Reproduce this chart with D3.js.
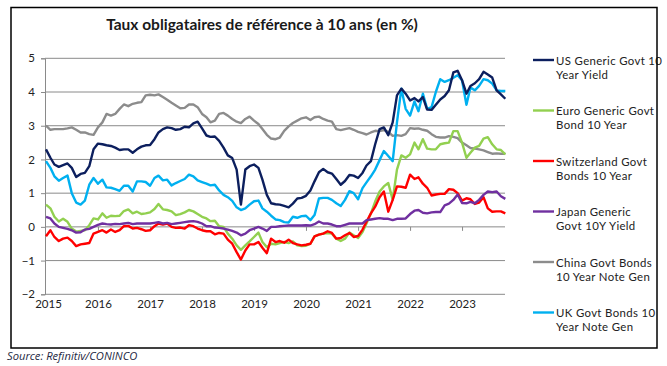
<!DOCTYPE html>
<html><head><meta charset="utf-8">
<script src="https://cdn.jsdelivr.net/npm/d3@7/dist/d3.min.js"></script>
<style>
html,body{margin:0;padding:0;background:#fff;}
svg{display:block;}
</style></head>
<body>
<svg id="chart" width="667" height="366"></svg>
<script>
// ---------- DATA (monthly, Jan 2015 – Nov 2023) ----------
const startMonth = "2015-01";
const endMonth = "2023-11";
const yearTicks = ["2015","2016","2017","2018","2019","2020","2021","2022","2023"];
const yTicks = [-2,-1,0,1,2,3,4,5];

const usYield = [
 2.3,2.05,1.85,1.78,1.83,1.88,1.75,1.48,1.57,1.6,1.8,2.3,
 2.47,2.45,2.42,2.4,2.35,2.28,2.3,2.3,2.2,2.3,2.38,2.42,
 2.43,2.6,2.8,2.9,2.95,2.93,2.88,2.9,2.97,2.95,3.07,3.12,
 2.92,2.71,2.67,2.68,2.55,2.35,2.12,2.04,1.7,0.66,1.7,1.8,
 1.85,1.75,1.4,0.95,0.7,0.67,0.66,0.62,0.58,0.69,0.84,0.86,
 0.92,1.08,1.35,1.62,1.72,1.62,1.58,1.42,1.25,1.36,1.54,1.52,
 1.45,1.6,1.82,1.95,2.45,2.9,2.95,2.72,3.1,3.9,4.1,3.95,
 3.75,3.82,3.72,3.85,3.48,3.47,3.62,3.78,3.88,4.05,4.58,4.63,
 4.35,3.95,4.18,4.26,4.38,4.6,4.52,4.43,4.05,3.93,3.8
];
const euroYield = [
 0.66,0.55,0.3,0.16,0.24,0.15,-0.05,-0.14,-0.12,-0.1,0.05,0.25,
 0.22,0.4,0.27,0.33,0.32,0.33,0.47,0.52,0.4,0.45,0.38,0.4,
 0.43,0.53,0.68,0.52,0.5,0.46,0.35,0.38,0.43,0.5,0.46,0.38,
 0.3,0.25,0.17,0.18,0.02,0.0,-0.2,-0.35,-0.55,-0.68,-0.55,-0.43,
 -0.3,-0.17,-0.45,-0.6,-0.5,-0.52,-0.48,-0.45,-0.48,-0.43,-0.55,-0.57,
 -0.56,-0.5,-0.28,-0.23,-0.2,-0.18,-0.2,-0.35,-0.42,-0.35,-0.17,-0.25,
 -0.33,-0.15,0.1,0.4,0.75,1.05,1.2,1.3,0.8,1.7,2.12,2.05,
 2.15,2.5,2.3,2.6,2.32,2.3,2.3,2.45,2.48,2.5,2.84,2.84,
 2.5,2.05,2.2,2.35,2.4,2.62,2.66,2.45,2.3,2.28,2.15
];
const swissYield = [
 -0.28,-0.1,-0.3,-0.42,-0.35,-0.32,-0.42,-0.57,-0.52,-0.5,-0.48,-0.2,
 -0.15,-0.1,-0.17,-0.08,-0.15,-0.1,0.02,0.03,-0.05,-0.03,-0.07,-0.12,
 -0.1,0.02,0.1,0.07,0.1,0.0,-0.03,-0.02,-0.05,0.05,0.02,-0.05,
 -0.1,-0.13,-0.13,-0.22,-0.18,-0.2,-0.38,-0.5,-0.75,-0.97,-0.7,-0.52,
 -0.52,-0.45,-0.62,-0.78,-0.35,-0.45,-0.42,-0.47,-0.38,-0.48,-0.52,-0.55,
 -0.53,-0.5,-0.28,-0.23,-0.2,-0.13,-0.18,-0.35,-0.33,-0.25,-0.18,-0.3,
 -0.27,-0.08,0.15,0.4,0.6,0.88,1.05,0.45,0.8,1.2,1.19,1.16,
 1.55,1.42,1.47,1.28,1.16,0.93,0.96,0.98,0.98,1.12,1.1,1.0,
 0.78,0.85,0.82,0.68,0.72,0.88,0.55,0.45,0.46,0.46,0.4
];
const japanYield = [
 0.3,0.25,0.1,0.0,-0.03,-0.06,-0.1,-0.17,-0.16,-0.08,-0.06,0.0,
 0.06,0.1,0.08,0.07,0.09,0.08,0.1,0.12,0.08,0.1,0.1,0.1,
 0.1,0.12,0.14,0.1,0.12,0.08,0.1,0.12,0.14,0.16,0.17,0.15,
 0.1,0.02,0.02,-0.02,-0.03,-0.05,-0.08,-0.12,-0.17,-0.25,-0.2,-0.1,
 -0.05,0.0,-0.05,-0.12,0.0,0.0,0.02,0.03,0.04,0.04,0.04,0.04,
 0.05,0.04,0.08,0.16,0.1,0.1,0.07,0.02,0.02,0.06,0.1,0.1,
 0.1,0.1,0.2,0.22,0.24,0.26,0.24,0.24,0.2,0.24,0.24,0.25,
 0.38,0.48,0.5,0.42,0.4,0.43,0.44,0.44,0.64,0.69,0.8,0.96,
 0.71,0.7,0.74,0.7,0.8,0.95,1.05,1.03,1.05,0.91,0.83
];
const chinaYield = [
 3.0,2.88,2.9,2.9,2.9,2.92,2.95,2.88,2.8,2.8,2.75,2.73,
 2.95,3.1,3.35,3.3,3.35,3.5,3.63,3.58,3.65,3.68,3.7,3.9,
 3.92,3.9,3.93,3.85,3.77,3.68,3.6,3.52,3.53,3.63,3.63,3.55,
 3.35,3.25,3.1,3.15,3.35,3.38,3.3,3.2,3.12,3.08,3.2,3.27,
 3.15,3.05,2.9,2.73,2.62,2.6,2.65,2.85,2.98,3.08,3.15,3.22,
 3.25,3.17,3.25,3.27,3.2,3.15,3.12,2.9,2.87,2.9,2.93,2.88,
 2.82,2.78,2.74,2.8,2.85,2.84,2.87,2.82,2.7,2.72,2.7,2.75,
 2.93,2.91,2.92,2.88,2.85,2.75,2.67,2.65,2.65,2.69,2.67,2.63,
 2.5,2.42,2.34,2.32,2.3,2.27,2.22,2.17,2.18,2.17,2.17
];
const ukYield = [
 1.95,1.75,1.5,1.37,1.45,1.52,1.0,0.72,0.66,0.78,1.25,1.45,
 1.28,1.4,1.17,1.16,1.12,1.07,1.22,1.22,1.05,1.35,1.35,1.33,
 1.22,1.45,1.52,1.38,1.4,1.23,1.3,1.36,1.42,1.55,1.5,1.38,
 1.33,1.28,1.23,1.25,1.08,0.95,0.88,0.77,0.58,0.5,0.55,0.66,
 0.76,0.78,0.55,0.45,0.33,0.22,0.2,0.14,0.13,0.3,0.27,0.32,
 0.33,0.2,0.35,0.84,0.86,0.86,0.8,0.7,0.62,0.8,1.06,1.0,
 0.82,1.15,1.32,1.5,1.7,1.98,2.25,2.1,1.95,3.1,4.1,3.5,
 3.3,3.72,3.43,3.95,3.5,3.55,4.0,4.38,4.3,4.35,4.42,4.5,
 4.35,3.62,4.13,4.05,4.18,4.38,4.35,4.25,4.05,4.03,4.03
];

const seriesNames = [
 ["US Generic Govt 10","Year Yield"],
 ["Euro Generic Govt","Bond 10 Year"],
 ["Switzerland Govt","Bonds 10 Year"],
 ["Japan Generic","Govt 10Y Yield"],
 ["China Govt Bonds","10 Year Note Gen"],
 ["UK Govt Bonds 10","Year Note Gen"]
];
const seriesValues = [usYield, euroYield, swissYield, japanYield, chinaYield, ukYield];
const seriesColors = ["#0c1f5e","#92d050","#ff0000","#7030a0","#8c8c8c","#00b0f0"];
// drawing order (back to front)
const drawOrder = [4,1,2,3,5,0];

const titleText = "Taux obligataires de référence à 10 ans (en %)";
const sourceText = "Source: Refinitiv/CONINCO";

// ---------- CHART ----------
const svg = d3.select("#chart");
const parse = d3.timeParse("%Y-%m");
const months = d3.timeMonth.range(parse(startMonth), d3.timeMonth.offset(parse(endMonth), 1));

const x = d3.scaleTime()
  .domain([new Date(2015,0,1), new Date(2024,0,1)])
  .range([46, 514]);
const y = d3.scaleLinear().domain([-2,5]).range([294.3, 58.3]);
const plotRight = 505;
const font = "Lato, 'DejaVu Sans', sans-serif";

// legend (drawn first so the frame sits on top)
const leg = svg.append("g");
seriesNames.forEach((nm,k)=>{
  const ly = 60 + k*50.5;
  leg.append("line").attr("x1",533).attr("x2",554).attr("y1",ly).attr("y2",ly)
    .attr("stroke",seriesColors[k]).attr("stroke-width",2.4);
  nm.forEach((txt,j)=>{
    leg.append("text").attr("x",556).attr("y",ly + j*14)
      .attr("dominant-baseline","central")
      .attr("font-family",font).attr("font-size",11.4)
      .attr("letter-spacing",0.35).attr("fill","#222").text(txt);
  });
});

// outer frame
svg.append("rect").attr("x",11).attr("y",7.5).attr("width",646).attr("height",340.5)
  .attr("fill","none").attr("stroke","#000").attr("stroke-width",1.5);

// title
svg.append("text").attr("x",262).attr("y",30).attr("text-anchor","middle")
  .attr("font-family",font).attr("font-size",15.5)
  .attr("font-weight",700).attr("fill","#1a1a1a").text(titleText);

// gridlines
svg.append("g").selectAll("line").data(yTicks).join("line")
  .attr("x1",45).attr("x2",plotRight)
  .attr("y1",d=>y(d)).attr("y2",d=>y(d))
  .attr("stroke","#8a8a8a").attr("stroke-width",1);

// y axis
const yAxis = svg.append("g").attr("transform","translate(45,0)")
  .call(d3.axisLeft(y).tickValues(yTicks).tickSize(4).tickPadding(6).tickFormat(d3.format("d")));
yAxis.select(".domain").attr("stroke","#8a8a8a");
yAxis.selectAll(".tick line").attr("stroke","#8a8a8a");
yAxis.selectAll("text").attr("font-family",font)
  .attr("font-size",11.5).attr("fill","#222");

// x tick marks on the zero line
const yearDates = yearTicks.map(t => new Date(+t,0,1));
const xTickAxis = svg.append("g").attr("transform",`translate(0,${y(0)})`)
  .call(d3.axisBottom(x).tickValues(yearDates.slice(1)).tickSize(4).tickFormat(""));
xTickAxis.select(".domain").remove();
xTickAxis.selectAll(".tick line").attr("stroke","#8a8a8a");

// x labels at bottom
const xLab = svg.append("g").attr("transform",`translate(0,${y(-2)})`)
  .call(d3.axisBottom(x).tickValues(yearDates).tickSize(0).tickPadding(6)
    .tickFormat((d,i)=>yearTicks[i]));
xLab.select(".domain").remove();
xLab.selectAll("text").attr("font-family",font)
  .attr("font-size",11.5).attr("fill","#222");
xLab.select(".tick text").attr("dx",2);

// lines
const line = d3.line().x((d,i)=>x(months[i])).y(d=>y(d));
drawOrder.forEach(k=>{
  svg.append("path").datum(seriesValues[k])
    .attr("fill","none").attr("stroke",seriesColors[k])
    .attr("stroke-width",2.4).attr("stroke-linejoin","round")
    .attr("d",line);
});

// source
svg.append("text").attr("x",7).attr("y",360)
  .attr("font-family","'Open Sans', sans-serif").attr("font-style","italic")
  .attr("font-size",11.2).attr("fill","#1f2a44").text(sourceText);
</script>
</body></html>
